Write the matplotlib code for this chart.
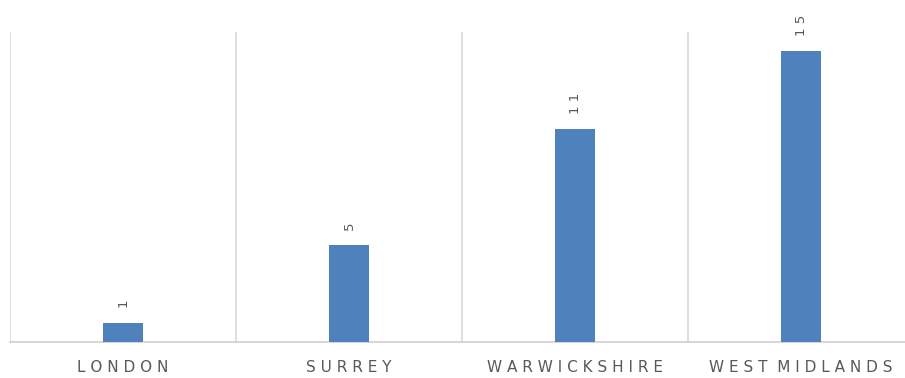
import matplotlib
matplotlib.use("Agg")
import matplotlib.pyplot as plt
import numpy as np

categories = ["LONDON", "SURREY", "WARWICKSHIRE", "WEST MIDLANDS"]
values = [1, 5, 11, 15]

fig = plt.figure(figsize=(9.05, 3.78), dpi=100)
ax = fig.add_axes([10/905, 36/378, 904/905, 310/378])

x = np.arange(len(categories))
bars = ax.bar(x, values, width=0.18, color="#4f81bd", zorder=3)

ax.set_xlim(-0.5, len(categories) - 0.5)
ax.set_ylim(0, 16)

for s in ["top", "right", "left"]:
    ax.spines[s].set_visible(False)
ax.spines["bottom"].set_color("#d0d0d0")
ax.spines["bottom"].set_linewidth(1.2)


def spaced(text):
    return "  ".join(" ".join(w) for w in text.split(" "))


ax.set_yticks([])
ax.set_xticks(x)
ax.set_xticklabels([spaced(c) for c in categories],
                   fontsize=11, color="#595959", family="Liberation Sans Narrow")
ax.tick_params(axis="x", length=0, pad=13)
ax.set_xticks(np.arange(-0.5, len(categories), 1), minor=True)
ax.tick_params(axis="x", which="minor", length=0)
ax.grid(True, axis="x", which="minor", color="#d9d9d9", linewidth=1.2, zorder=0)
ax.grid(False, axis="x", which="major")

for xi, v in zip(x, values):
    ax.annotate(" ".join(str(v)), (xi, v), xytext=(0, 11), textcoords="offset points",
                rotation=90, ha="center", va="bottom", fontsize=9.5,
                color="#595959", family="Liberation Sans Narrow")

fig.savefig("out.png", dpi=100)
